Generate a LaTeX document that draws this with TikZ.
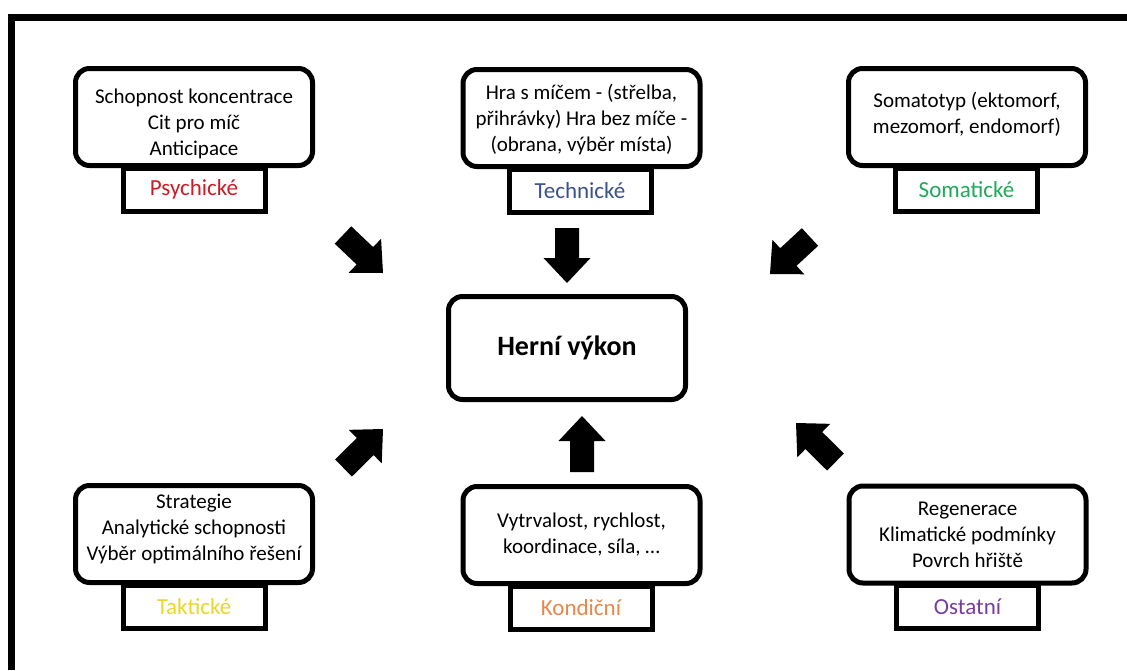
\documentclass[tikz,border=0pt]{standalone}
\usepackage{fontspec}
\setmainfont{Carlito}
\usetikzlibrary{calc}
\definecolor{cpsy}{RGB}{200,30,40}
\definecolor{ctech}{RGB}{60,80,140}
\definecolor{csom}{RGB}{30,170,90}
\definecolor{ctak}{RGB}{235,215,40}
\definecolor{ckon}{RGB}{230,135,75}
\definecolor{cost}{RGB}{120,60,160}
\newcommand{\blockarr}[2]{%
  \path ($(#2)!25pt!(#1)$) coordinate (ahd);
  \fill[black] ($(#1)!12pt!90:(#2)$) -- ($(ahd)!12pt!90:(#2)$) -- ($(ahd)!23.5pt!90:(#2)$) -- (#2)
    -- ($(ahd)!23.5pt!-90:(#2)$) -- ($(ahd)!12pt!-90:(#2)$) -- ($(#1)!12pt!-90:(#2)$) -- cycle;}
\newcommand{\shiftlines}[2]{\raisebox{#1}[\height][\depth]{\begin{tabular}{@{}c@{}}#2\end{tabular}}}
\begin{document}
\begin{tikzpicture}[x=1pt,y=-1pt,
  mainbox/.style={draw, line width=5pt, rounded corners=14pt, fill=white,
    minimum width=237pt, minimum height=97pt, align=center, inner sep=0pt,
    font=\fontsize{21}{26}\selectfont},
  labelbox/.style={draw, line width=5pt, fill=white, minimum width=142pt,
    minimum height=43pt, inner sep=0pt, anchor=north,
    font=\fontsize{23}{26}\selectfont},
  framestyle/.style={line width=7pt, line join=miter}]
\useasboundingbox[fill=white] (0,0) rectangle (1127,670);
\draw[framestyle] (11.5,670) -- (11.5,17.5) -- (1127,17.5);

% top row
\node[labelbox, text=cpsy] (psyl) at (194,165.5) {Psychické};
\node[mainbox] (psy) at (194,117) {\shiftlines{-7pt}{Schopnost koncentrace\\Cit pro míč\\Anticipace}};
\node[labelbox, text=ctech] (techl) at (580,166.5) {Technické};
\node[mainbox] (tech) at (581.5,118) {\shiftlines{-2pt}{Hra s míčem - (střelba,\\přihrávky) Hra bez míče -\\(obrana, výběr místa)}};
\node[labelbox, text=csom] (soml) at (966.5,165.5) {Somatické};
\node[mainbox] (som) at (967,117) {\shiftlines{2pt}{Somatotyp (ektomorf,\\mezomorf, endomorf)}};

% center
\node[mainbox, minimum height=103pt, font=\bfseries\fontsize{28}{32}\selectfont] (hv) at (567,348) {Herní výkon};

% bottom row
\node[labelbox, text=ctak] (takl) at (194,582.5) {Taktické};
\node[mainbox] (tak) at (194,534) {\shiftlines{5pt}{Strategie\\Analytické schopnosti\\Výběr optimálního řešení}};
\node[labelbox, text=ckon] (konl) at (581,583.5) {Kondiční};
\node[mainbox] (kon) at (581.5,535) {Vytrvalost, rychlost,\\koordinace, síla, …};
\node[labelbox, text=cost] (ostl) at (967.5,582.5) {Ostatní};
\node[mainbox] (ost) at (967.5,534.5) {Regenerace\\Klimatické podmínky\\Povrch hřiště};

% arrows
\coordinate (a1t) at (343,235); \coordinate (a1h) at (383,273);
\coordinate (a2t) at (567,228); \coordinate (a2h) at (567,283);
\coordinate (a3t) at (810,237); \coordinate (a3h) at (770,274);
\coordinate (a4t) at (343.5,468); \coordinate (a4h) at (383,429);
\coordinate (a5t) at (582,472); \coordinate (a5h) at (582,416);
\coordinate (a6t) at (835.5,462); \coordinate (a6h) at (796,423);
\blockarr{a1t}{a1h}
\blockarr{a2t}{a2h}
\blockarr{a3t}{a3h}
\blockarr{a4t}{a4h}
\blockarr{a5t}{a5h}
\blockarr{a6t}{a6h}
\end{tikzpicture}
\end{document}
